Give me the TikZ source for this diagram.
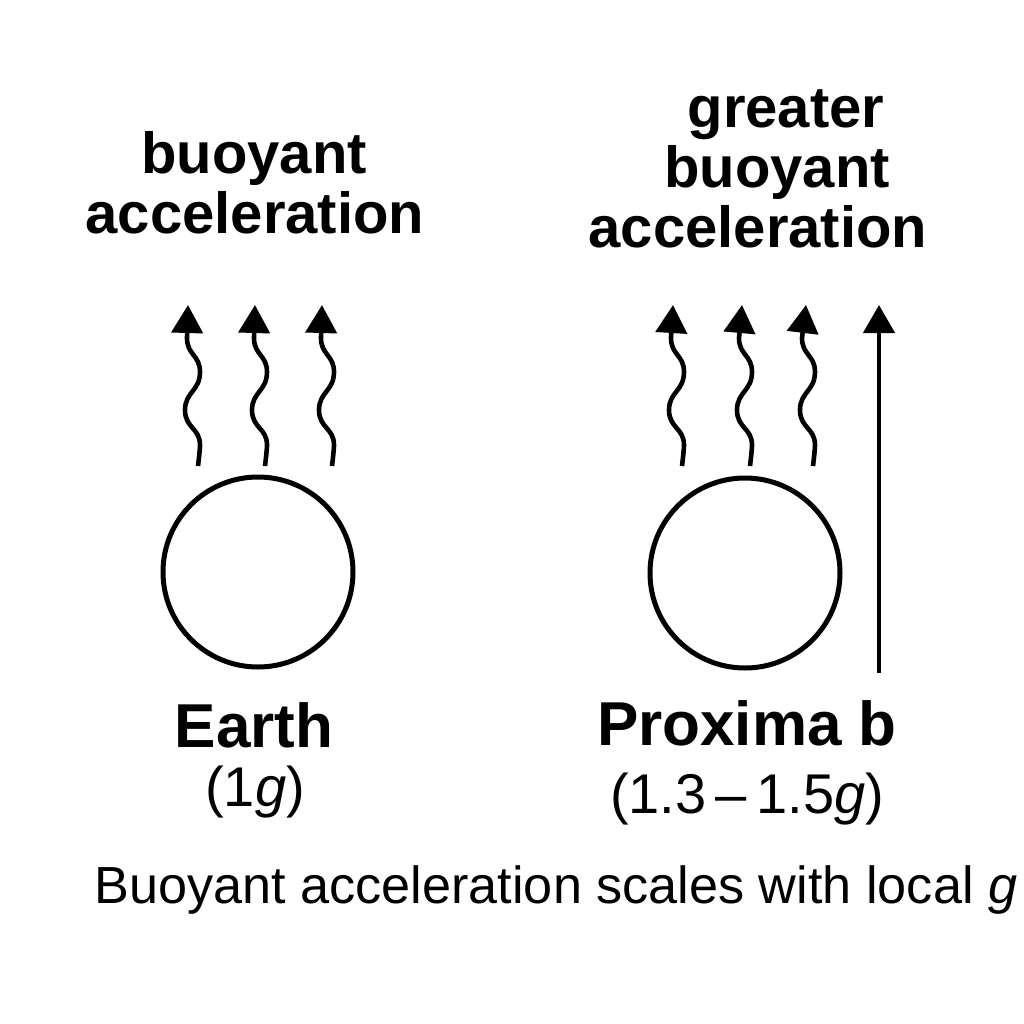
\documentclass[tikz,border=0pt]{standalone}
\usepackage{fontspec}
\setmainfont{Liberation Sans}
\usetikzlibrary{arrows.meta}
\begin{document}
\begin{tikzpicture}[x=0.5pt,y=-0.5pt,
  headtxt/.style={font=\fontsize{29pt}{29pt}\selectfont\bfseries, anchor=base, inner sep=0pt},
  nametxt/.style={font=\fontsize{31pt}{31pt}\selectfont\bfseries, anchor=base, inner sep=0pt},
  gtxt/.style={font=\fontsize{28pt}{28pt}\selectfont, anchor=base, inner sep=0pt},
  captxt/.style={font=\fontsize{26.1pt}{26.1pt}\selectfont, anchor=base, inner sep=0pt},
  planet/.style={circle, draw, line width=2.5pt, minimum size=95pt, inner sep=0pt},
  upar/.style={line width=2.3pt, -{Triangle[length=14pt,width=15.5pt]}},
]
\useasboundingbox (0,0) rectangle (1024,1024);

% headings
\node[headtxt] (h1a) at (254,173) {buoyant};
\node[headtxt] (h1b) at (255,233) {acceleration};
\node[headtxt] (h2a) at (786,127) {greater};
\node[headtxt] (h2b) at (777,187) {buoyant};
\node[headtxt] (h2c) at (758,247) {acceleration};

% planets
\node[planet] (earth) at (258,572) {};
\node[planet] (prox) at (745,573) {};

% labels
\node[nametxt] (earthlbl) at (254,747) {Earth};
\node[gtxt] (earthg) at (255,806) {(1\textit{g})};
\node[nametxt] (proxlbl) at (747,745) {Proxima b};
\node[gtxt] (proxg) at (747,813) {(1.3\,–\,1.5\textit{g})};

\node[captxt] (caption) at (556,903) {Buoyant acceleration scales with local \textit{g}};

% wavy arrows
\foreach \n/\bx/\tx in {e1/198/188, e2/265/255, e3/332/322, p1/682/673, p2/750/742, p3/813/806}{
  \coordinate (\n s) at (\bx,466);
  \coordinate (\n t) at (\tx,305);
  \draw[upar] (\n s)
    .. controls +(0.5,-4) and +(0,4) .. ++(2,-21)
    .. controls +(0,-17) and +(0,18) .. ++(-15,-35)
    .. controls +(0,-18) and +(0,19) .. ++(15,-38)
    .. controls +(0,-17) and +(0,17) .. ++(-13,-34)
    -- (\n t);
}

% straight arrow
\coordinate (bigs) at (879,673);
\coordinate (bigt) at (879,305);
\draw[upar] (bigs) -- (bigt);
\end{tikzpicture}
\end{document}
